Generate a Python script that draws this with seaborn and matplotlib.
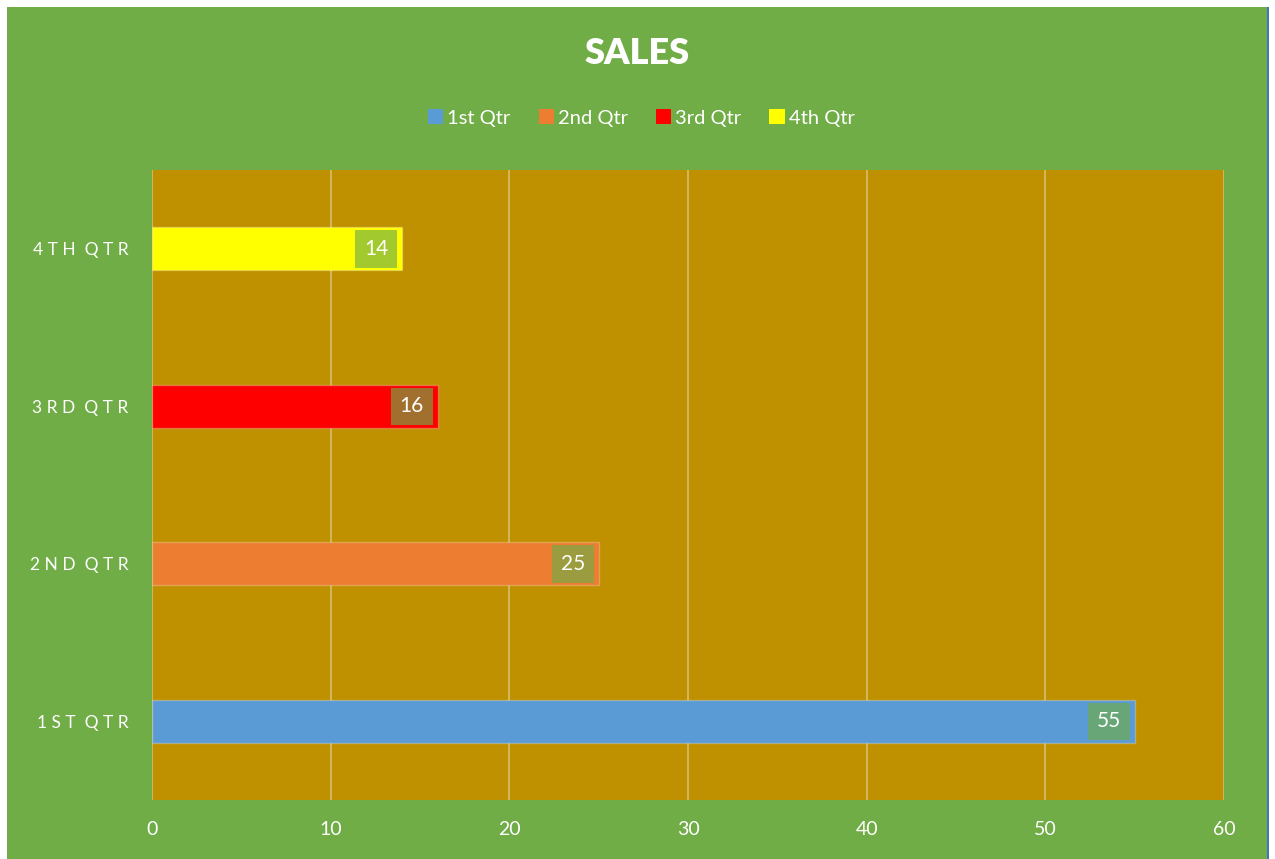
import matplotlib
matplotlib.use("Agg")
import matplotlib.pyplot as plt
import seaborn as sns
import pandas as pd
from matplotlib.patches import Rectangle, Patch

categories = ["4th Qtr", "3rd Qtr", "2nd Qtr", "1st Qtr"]
values = [14, 16, 25, 55]
legend_order = ["1st Qtr", "2nd Qtr", "3rd Qtr", "4th Qtr"]
colors = {"1st Qtr": "#5B9BD5", "2nd Qtr": "#ED7D31", "3rd Qtr": "#FF0000", "4th Qtr": "#FFFF00"}
xticks = [0, 10, 20, 30, 40, 50, 60]

GREEN = "#70AD47"
PLOT_BG = "#BF9000"

sns.set_theme(style="white")
plt.rcParams['font.family'] = ['Lato', 'DejaVu Sans']

df = pd.DataFrame({"Quarter": categories, "Sales": values})

fig = plt.figure(figsize=(12.75, 8.59), dpi=100, facecolor="white")
fig.patches.append(Rectangle((7/1275, 0), 1260/1275, 852/859, transform=fig.transFigure,
                             facecolor=GREEN, edgecolor="none", zorder=-10))
fig.patches.append(Rectangle((1267/1275, 0), 2/1275, 852/859, transform=fig.transFigure,
                             facecolor="#4472C4", edgecolor="none", zorder=-9))

ax = fig.add_axes([152/1275, (859-800)/859, (1224-152)/1275, (800-170)/859])
ax.set_facecolor(PLOT_BG)

sns.barplot(data=df, y="Quarter", x="Sales", hue="Quarter", order=categories,
            palette=colors, width=0.27, dodge=False, legend=False, ax=ax,
            edgecolor="#FFFFFF40", linewidth=1.0, saturation=1)

ax.set_xlim(0, 60)
ax.set_xticks(xticks)
ax.set_xticklabels([str(t) for t in xticks], color="white", fontsize=14)
ax.grid(axis="x", color="#D8BE6A", linewidth=1.2)
ax.set_axisbelow(True)
for s in ax.spines.values():
    s.set_visible(False)
ax.tick_params(axis="both", length=0)
ax.tick_params(axis="x", pad=15)
ax.tick_params(axis="y", pad=17)

def spaced(s):
    return "  ".join(" ".join(list(w)) for w in s.upper().split())

ylabels = [spaced(c) for c in categories]
ax.set_yticks(range(len(categories)))
ax.set_yticklabels(ylabels, color="white", fontsize=12.5)
ax.set_xlabel("")
ax.set_ylabel("")

for i, v in enumerate(values):
    ax.annotate(str(v), xy=(v, i), xytext=(-10, 0), textcoords="offset points",
                ha="right", va="center", color="white", fontsize=15,
                bbox=dict(boxstyle="square,pad=0.42", facecolor=GREEN, alpha=0.65, edgecolor="none"))

fig.text(0.5, 1 - 53/859, "SALES", ha="center", va="center", color="white",
         fontsize=26, fontweight="heavy")

handles = [Patch(facecolor=colors[q], edgecolor="none") for q in legend_order]
fig.legend(handles, legend_order, loc="center", bbox_to_anchor=(0.503, 1 - 118/859),
           ncol=4, frameon=False, fontsize=14.5, labelcolor="white",
           handlelength=0.75, handleheight=0.75, handletextpad=0.2, columnspacing=1.4)

fig.savefig("out.png", dpi=100, facecolor="white")
